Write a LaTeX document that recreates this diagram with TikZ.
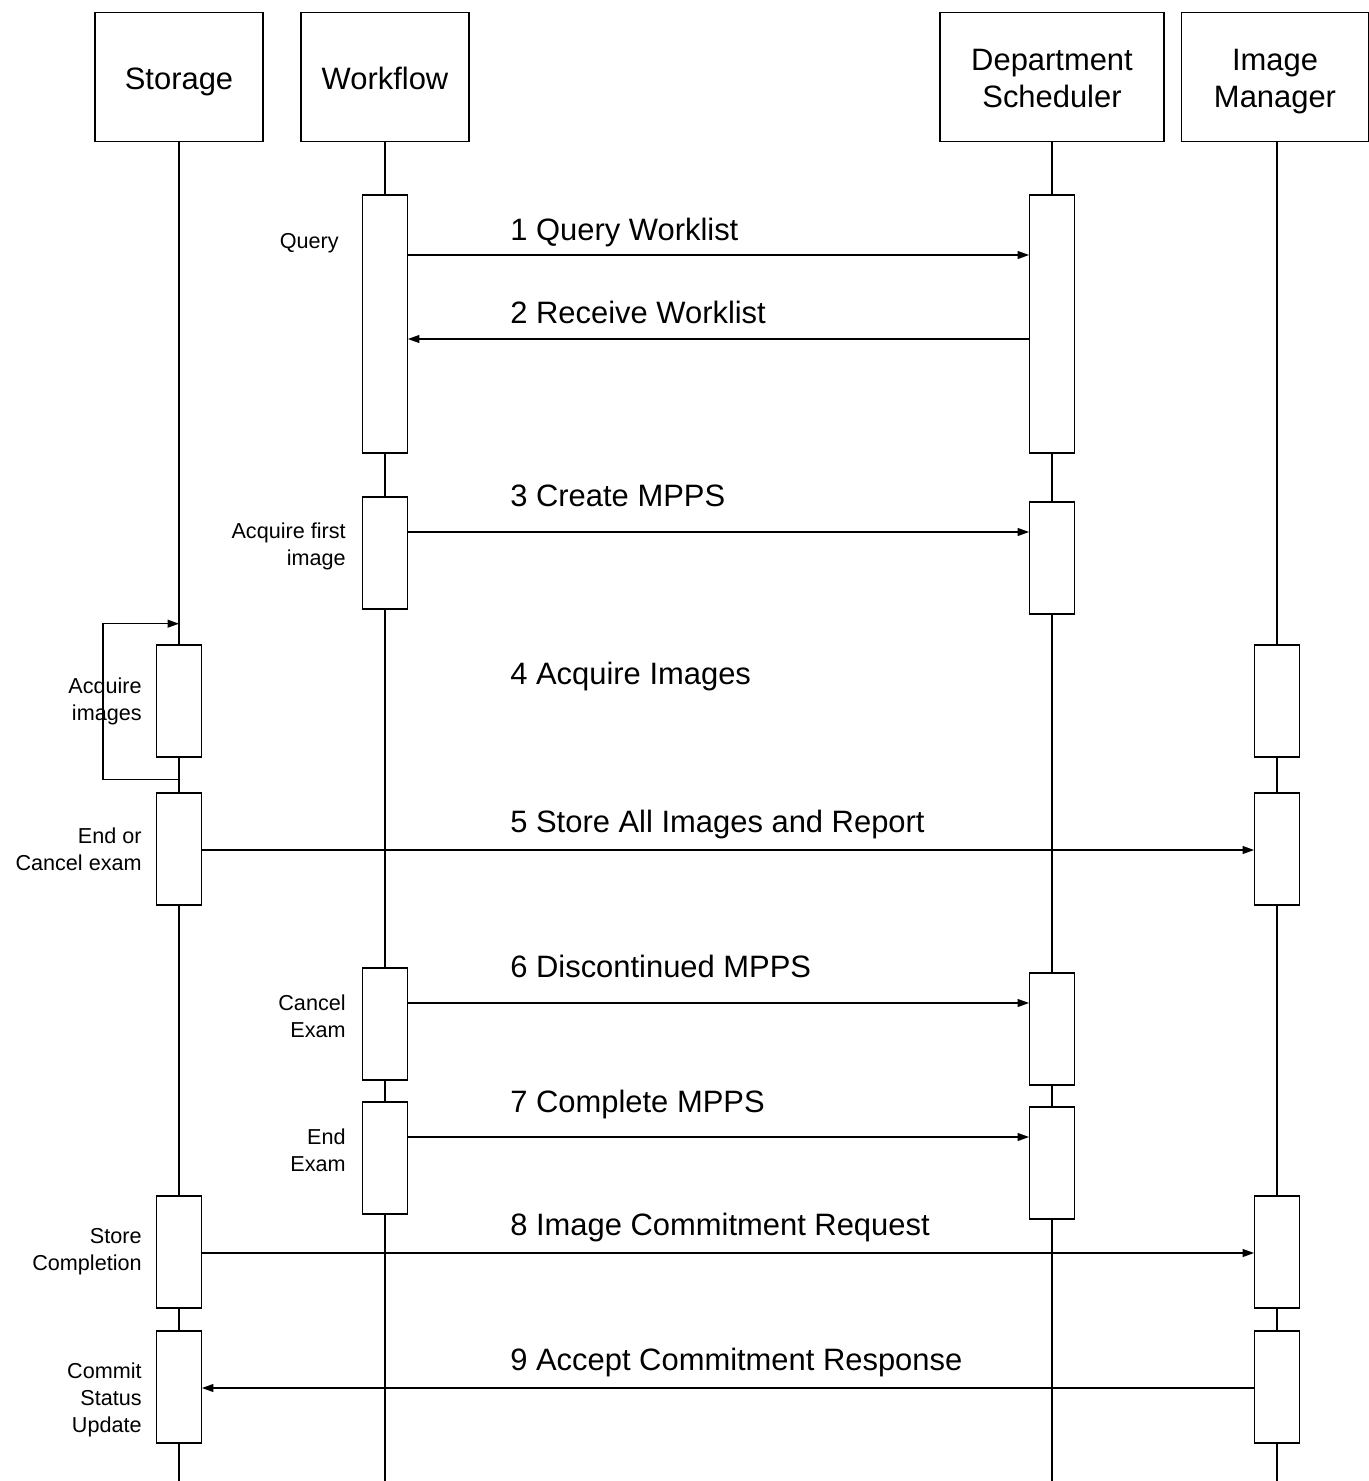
\documentclass[tikz,border=0pt]{standalone}
\usepackage{fontspec}
\setmainfont{Liberation Sans}
\usetikzlibrary{arrows.meta}

\newcommand{\hstrut}{\rule[-5pt]{0pt}{24pt}}

\begin{document}
\begin{tikzpicture}
[
  x=0.02cm,
  y=-0.02cm,
	head/.style={draw,line width=0.8pt,minimum width=3.36cm,minimum height=2.58cm,align=center,font=\fontsize{17.6}{21}\selectfont},
	act/.style={draw,line width=0.8pt,fill=white,minimum width=0.89cm,minimum height=2.24cm,inner sep=0pt},
	life/.style={line width=0.7pt},
	msg/.style={line width=0.7pt,-{Triangle[length=6.5pt,width=4.5pt]}},
	lbl/.style={anchor=base west,inner xsep=0pt,font=\fontsize{17.6}{21}\selectfont},
	note/.style={anchor=east,align=right,inner sep=0pt,font=\fontsize{12.3}{15.3}\selectfont}
]
\useasboundingbox (0,0) rectangle (1369,1481);

% lifeline heads
\node[head] (storage) at (179,77) {\hstrut Storage};
\node[head] (workflow) at (385,77) {\hstrut Workflow};
\node[head,minimum width=4.48cm] (dept) at (1052,77) {\hstrut Department\\[-4pt]\hstrut Scheduler};
\node[head,minimum width=3.74cm] (imgman) at (1275,77) {\hstrut Image\\[-4pt]\hstrut Manager};

\coordinate (stend) at (179,1481);
\coordinate (wfend) at (385,1481);
\coordinate (dsend) at (1052,1481);
\coordinate (imend) at (1277,1481);

\draw[life] (storage.south) -- (stend);
\draw[life] (workflow.south) -- (wfend);
\draw[life] (dept.south) -- (dsend);
\draw[life] (imgman.south -| imend) -- (imend);

% activations
\node[act,minimum height=5.16cm] (wf1) at (385,324) {};
\node[act] (wf2) at (385,553) {};
\node[act] (wf3) at (385,1024) {};
\node[act] (wf4) at (385,1158) {};

\node[act,minimum height=5.16cm] (ds1) at (1052,324) {};
\node[act] (ds2) at (1052,558) {};
\node[act] (ds3) at (1052,1029) {};
\node[act] (ds4) at (1052,1163) {};

\node[act] (st1) at (179,701) {};
\node[act] (st2) at (179,849) {};
\node[act] (st3) at (179,1252) {};
\node[act] (st4) at (179,1387) {};

\node[act] (im1) at (1277,701) {};
\node[act] (im2) at (1277,849) {};
\node[act] (im3) at (1277,1252) {};
\node[act] (im4) at (1277,1387) {};

% side notes
\node[note] (n1) at (339,243) {Query};
\node[note] (n2) at (346,546) {Acquire first\\image};
\node[note] (n3) at (142,701) {Acquire\\images};
\node[note] (n4) at (142,849) {End or\\Cancel exam};
\node[note] (n5) at (346,1016) {Cancel\\Exam};
\node[note] (n6) at (346,1150) {End\\Exam};
\node[note] (n7) at (142,1252) {Store\\Completion};
\node[note] (n8) at (142,1400) {Commit\\Status\\Update};

% messages
\coordinate (m1) at (0,255);
\coordinate (m2) at (0,339);
\coordinate (m3) at (0,532);
\coordinate (m5) at (0,850);
\coordinate (m6) at (0,1003);
\coordinate (m7) at (0,1137);
\coordinate (m8) at (0,1253);
\coordinate (m9) at (0,1388);

\draw[msg] (wf1.east |- m1) -- (ds1.west |- m1);
\draw[msg] (ds1.west |- m2) -- (wf1.east |- m2);
\draw[msg] (wf2.east |- m3) -- (ds2.west |- m3);
\draw[msg] (st1.south) ++(0,22) -- ++(-76,0) -- ++(0,-156) -- ++(76,0);
\draw[msg] (st2.east |- m5) -- (im2.west |- m5);
\draw[msg] (wf3.east |- m6) -- (ds3.west |- m6);
\draw[msg] (wf4.east |- m7) -- (ds4.west |- m7);
\draw[msg] (st3.east |- m8) -- (im3.west |- m8);
\draw[msg] (im4.west |- m9) -- (st4.east |- m9);

\node[lbl] (l1) at (510,240) {1 Query Worklist};
\node[lbl] (l2) at (510,323) {2 Receive Worklist};
\node[lbl] (l3) at (510,506) {3 Create MPPS};
\node[lbl] (l4) at (510,684) {4 Acquire Images};
\node[lbl] (l5) at (510,832) {5 Store All Images and Report};
\node[lbl] (l6) at (510,977) {6 Discontinued MPPS};
\node[lbl] (l7) at (510,1112) {7 Complete MPPS};
\node[lbl] (l8) at (510,1235) {8 Image Commitment Request};
\node[lbl] (l9) at (510,1370) {9 Accept Commitment Response};
\end{tikzpicture}
\end{document}
